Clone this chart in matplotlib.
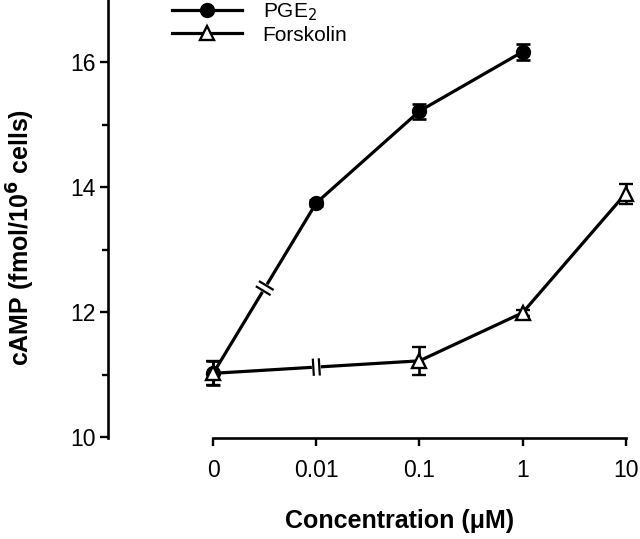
import matplotlib
matplotlib.use("Agg")
import matplotlib.pyplot as plt
import numpy as np
from matplotlib.lines import Line2D

plt.rcParams['font.family'] = ['Liberation Sans', 'DejaVu Sans']

# Data
tick_labels = ["0", "0.01", "0.1", "1", "10"]
pge2_pos = [0, 1, 2, 3]
pge2_vals = [11.02, 13.75, 15.22, 16.17]
pge2_err = [0.19, 0.05, 0.12, 0.13]
forsk_pos = [0, 2, 3, 4]
forsk_vals = [11.02, 11.22, 11.99, 13.90]
forsk_err = [0.19, 0.22, 0.05, 0.16]

fig = plt.figure(figsize=(6.4, 5.39), dpi=100)
ax = fig.add_axes([108/640, 101/539, (636-108)/640, 438/539])

lw = 2.3
ax.errorbar(pge2_pos, pge2_vals, yerr=pge2_err, color='black', lw=lw,
            marker='o', ms=10, mfc='black', mec='black',
            capsize=5, elinewidth=1.9, capthick=1.9, zorder=3)
ax.errorbar(forsk_pos, forsk_vals, yerr=forsk_err, color='black', lw=lw,
            marker='^', ms=9.5, mfc='white', mec='black', mew=1.7,
            capsize=5, elinewidth=1.9, capthick=1.9, zorder=3)

ax.set_xlim(-1.02, 4.1)
ax.set_ylim(9.984, 17.0)
ax.spines['top'].set_visible(False)
ax.spines['right'].set_visible(False)
ax.spines['left'].set_bounds(9.984, 17.0)
ax.spines['bottom'].set_bounds(0, 4)
ax.spines['left'].set_linewidth(1.9)
ax.spines['bottom'].set_linewidth(1.9)

ax.set_xticks(range(len(tick_labels)))
ax.set_xticklabels(tick_labels, fontsize=16.5)
ax.set_yticks([10, 12, 14, 16])
ax.set_yticks([11, 13, 15], minor=True)
ax.tick_params(axis='y', which='major', length=6, width=1.7, labelsize=16.5, pad=3)
ax.tick_params(axis='y', which='minor', length=4, width=1.7)
ax.tick_params(axis='x', which='major', length=6, width=1.7, labelsize=16.5, pad=9)

fig.text(400/640, 1 - 521/539, 'Concentration (μM)', fontsize=18, fontweight='bold',
         ha='center', va='center')
fig.text(21/640, 1 - 237/539, 'cAMP (fmol/10$^{\\mathbf{6}}$ cells)', fontsize=18,
         fontweight='bold', rotation=90, ha='center', va='center')

handles = [
    Line2D([], [], color='black', lw=lw, marker='o', ms=10, mfc='black', mec='black'),
    Line2D([], [], color='black', lw=lw, marker='^', ms=9.5, mfc='white', mec='black', mew=1.7),
]
leg = ax.legend(handles, ['PGE$_2$', 'Forskolin'], loc='upper left',
                bbox_to_anchor=(172/640, 1.0 - 1/539),
                bbox_transform=fig.transFigure, frameon=False, fontsize=15,
                handlelength=3.35, handletextpad=1.0, labelspacing=0.15,
                borderaxespad=0, borderpad=0)

# Axis break marks
def break_mark(x0, y0, x1, y1, length=15, gap=6):
    p0 = ax.transData.transform((x0, y0))
    p1 = ax.transData.transform((x1, y1))
    mid = (p0 + p1) / 2
    d = (p1 - p0) / np.linalg.norm(p1 - p0)
    n = np.array([-d[1], d[0]])
    for s in (-gap / 2, gap / 2):
        c = mid + d * s
        a = c - n * length / 2
        b = c + n * length / 2
        fig.add_artist(Line2D([a[0], b[0]], [a[1], b[1]], color='black', lw=1.6,
                              transform=None, zorder=5))
    a = mid - d * (gap / 2 - 1.2)
    b = mid + d * (gap / 2 - 1.2)
    fig.add_artist(Line2D([a[0], b[0]], [a[1], b[1]], color='white', lw=3.8,
                          transform=None, zorder=4))

break_mark(pge2_pos[0], pge2_vals[0], pge2_pos[1], pge2_vals[1])
break_mark(forsk_pos[0], forsk_vals[0], forsk_pos[1], forsk_vals[1])

fig.savefig('out.png', dpi=100)
